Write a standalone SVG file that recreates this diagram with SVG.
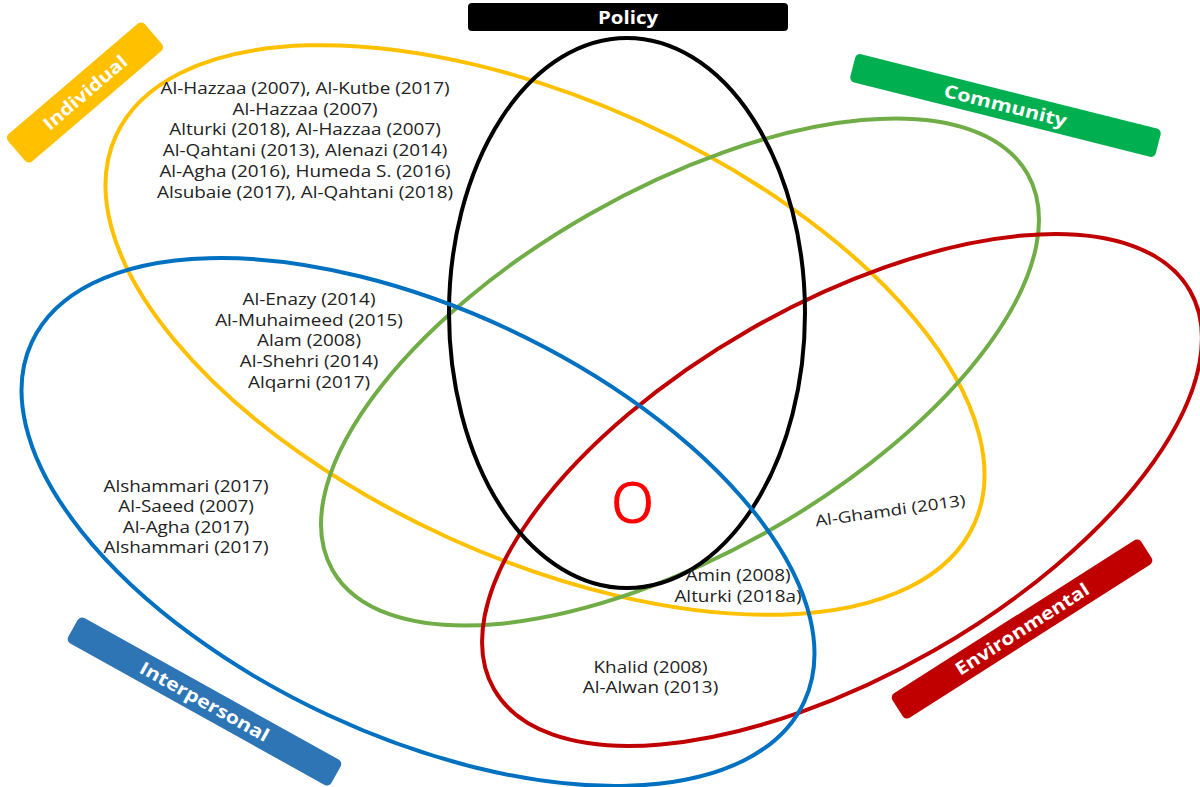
<svg xmlns="http://www.w3.org/2000/svg" width="1200" height="787" viewBox="0 0 1200 787">
  <style>
    .ring { fill: none; stroke-width: 4; }
    .cite { font-family: "Open Sans", "Liberation Sans", sans-serif; font-size: 15.5px; fill: #222222; text-anchor: middle; }
    .tag { font-family: "Open Sans", "Liberation Sans", sans-serif; font-weight: 700; font-size: 18px; fill: #ffffff; text-anchor: middle; }
  </style>
  <rect width="1200" height="787" fill="#ffffff"/>

  <!-- Individual level -->
  <g id="individual">
    <ellipse class="ring" cx="545" cy="330" rx="471" ry="229" stroke="#FFC000" transform="rotate(24.3 545 330)"/>
    <g transform="translate(85 92.5) rotate(-40.5)">
      <rect x="-90" y="-18" width="180" height="36" rx="5" fill="#FFC000"/>
      <text class="tag" x="0" y="6.5" textLength="104" lengthAdjust="spacingAndGlyphs">Individual</text>
    </g>
  </g>

  <!-- Community level -->
  <g id="community">
    <ellipse class="ring" cx="680" cy="372" rx="400" ry="182" stroke="#70AD47" transform="rotate(-29.7 680 372)"/>
    <g transform="translate(1005.5 105.5) rotate(14.1)">
      <rect x="-157.5" y="-14.5" width="315" height="29" rx="5" fill="#00B050"/>
      <text class="tag" x="0" y="6.5" textLength="126" lengthAdjust="spacingAndGlyphs">Community</text>
    </g>
  </g>

  <!-- Environmental level -->
  <g id="environmental">
    <ellipse class="ring" cx="842" cy="490" rx="401" ry="185" stroke="#C00000" transform="rotate(-29.8 842 490)"/>
    <g transform="translate(1022 629) rotate(-32.5)">
      <rect x="-147.5" y="-14.5" width="295" height="29" rx="5" fill="#C00000"/>
      <text class="tag" x="0" y="6.5" textLength="155" lengthAdjust="spacingAndGlyphs">Environmental</text>
    </g>
  </g>

  <!-- Policy level -->
  <g id="policy">
    <ellipse class="ring" cx="627" cy="313" rx="178" ry="275" stroke="#000000" stroke-width="4.5"/>
    <rect x="468" y="3" width="320" height="28" rx="4" fill="#000000"/>
    <text class="tag" x="628" y="23.5" font-size="17" textLength="60" lengthAdjust="spacingAndGlyphs">Policy</text>
  </g>

  <!-- Interpersonal level -->
  <g id="interpersonal">
    <ellipse class="ring" cx="418" cy="522" rx="426" ry="213" stroke="#0070C0" transform="rotate(25 418 522)"/>
    <g transform="translate(204.5 701.5) rotate(29.1)">
      <rect x="-150.5" y="-14.5" width="301" height="29" rx="5" fill="#2E75B6"/>
      <text class="tag" x="0" y="6.5" textLength="145" lengthAdjust="spacingAndGlyphs">Interpersonal</text>
    </g>
  </g>

  <!-- Studies placed in each region -->
  <g id="studies-individual" transform="translate(305 0) scale(1.22 1)">
    <text class="cite" x="0" y="94">Al-Hazzaa (2007), Al-Kutbe (2017)</text>
    <text class="cite" x="0" y="115">Al-Hazzaa (2007)</text>
    <text class="cite" x="0" y="135.5">Alturki (2018), Al-Hazzaa (2007)</text>
    <text class="cite" x="0" y="156.5">Al-Qahtani (2013), Alenazi (2014)</text>
    <text class="cite" x="0" y="177">Al-Agha (2016), Humeda S. (2016)</text>
    <text class="cite" x="0" y="198">Alsubaie (2017), Al-Qahtani (2018)</text>
  </g>

  <g id="studies-individual-interpersonal" transform="translate(309 0) scale(1.22 1)">
    <text class="cite" x="0" y="305">Al-Enazy (2014)</text>
    <text class="cite" x="0" y="326">Al-Muhaimeed (2015)</text>
    <text class="cite" x="0" y="346.5">Alam (2008)</text>
    <text class="cite" x="0" y="367.5">Al-Shehri (2014)</text>
    <text class="cite" x="0" y="388">Alqarni (2017)</text>
  </g>

  <g id="studies-interpersonal" transform="translate(186 0) scale(1.22 1)">
    <text class="cite" x="0" y="492">Alshammari (2017)</text>
    <text class="cite" x="0" y="512.5">Al-Saeed (2007)</text>
    <text class="cite" x="0" y="533">Al-Agha (2017)</text>
    <text class="cite" x="0" y="553.5">Alshammari (2017)</text>
  </g>

  <g id="studies-individual-environmental" transform="translate(891 516) rotate(-8) scale(1.22 1)">
    <text class="cite" x="0" y="0">Al-Ghamdi (2013)</text>
  </g>

  <g id="studies-community-environmental" transform="translate(738 0) scale(1.22 1)">
    <text class="cite" x="0" y="581">Amin (2008)</text>
    <text class="cite" x="0" y="602">Alturki (2018a)</text>
  </g>

  <g id="studies-interpersonal-environmental" transform="translate(650.5 0) scale(1.22 1)">
    <text class="cite" x="0" y="673">Khalid (2008)</text>
    <text class="cite" x="0" y="693.5">Al-Alwan (2013)</text>
  </g>

  <!-- Shared centre of all five levels -->
  <g id="overlap-all">
    <text x="632.5" y="523" font-family="'Open Sans', 'Liberation Sans', sans-serif" font-size="56" fill="#FF0000" text-anchor="middle">O</text>
  </g>
</svg>
